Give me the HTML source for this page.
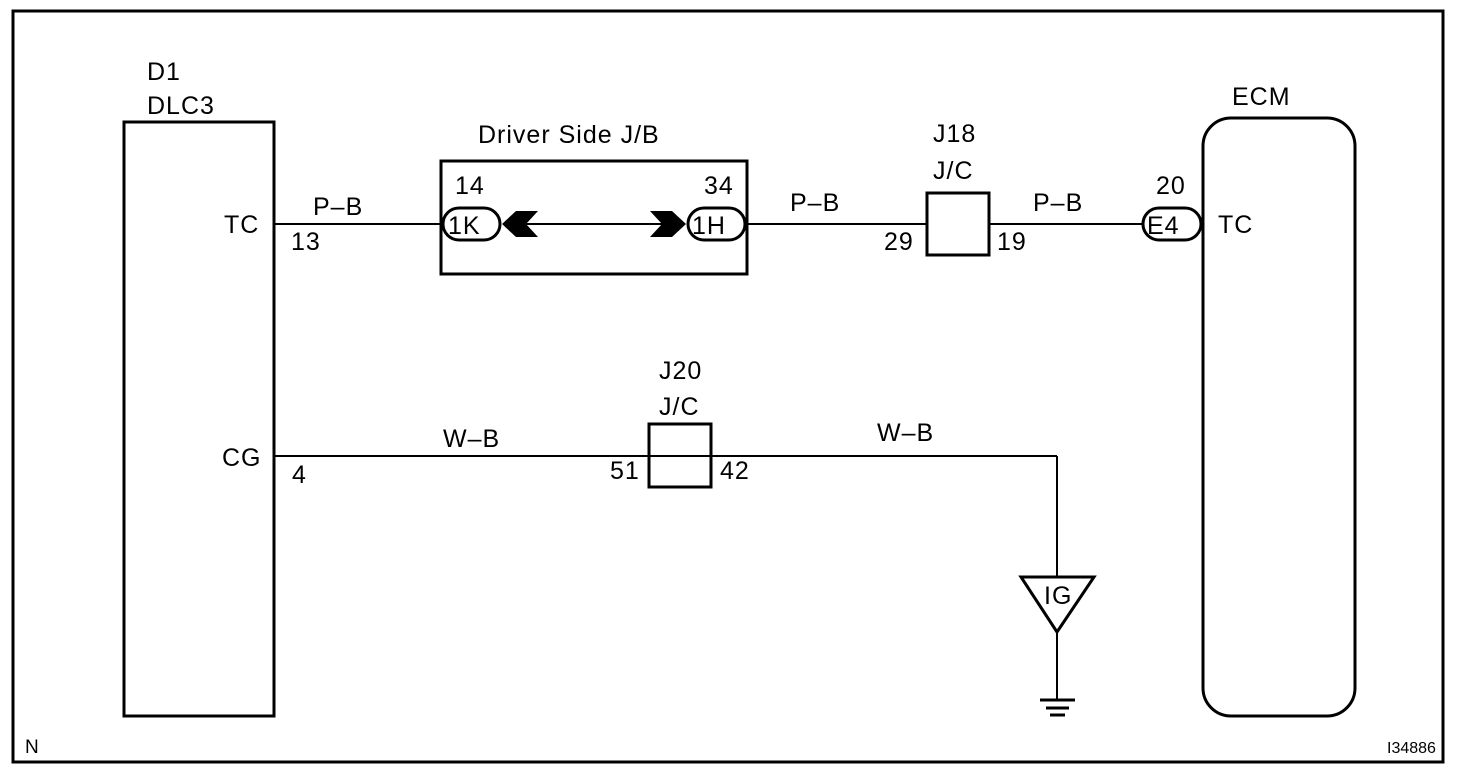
<!DOCTYPE html>
<html><head><meta charset="utf-8"><style>
html,body{margin:0;padding:0;background:#fff}
svg{display:block}
text{font-family:"Liberation Sans",Arial,sans-serif;font-size:25px;letter-spacing:1px;fill:#000}
</style></head><body>
<svg width="1472" height="774" viewBox="0 0 1472 774" xmlns="http://www.w3.org/2000/svg">
<rect x="13" y="11" width="1430" height="751" fill="none" stroke="#000" stroke-width="3"/>
<rect x="124" y="122" width="150" height="594" fill="none" stroke="#000" stroke-width="3"/>
<rect x="1203" y="118" width="152" height="598" rx="28" fill="none" stroke="#000" stroke-width="3"/>
<rect x="441" y="161" width="306" height="113" fill="none" stroke="#000" stroke-width="3"/>
<rect x="927" y="193" width="62" height="62" fill="none" stroke="#000" stroke-width="3"/>
<rect x="649" y="424" width="62" height="63" fill="none" stroke="#000" stroke-width="3"/>
<g stroke="#000" stroke-width="2" fill="none">
<line x1="274" y1="224" x2="443" y2="224"/>
<line x1="520" y1="224" x2="668" y2="224"/>
<line x1="745" y1="224" x2="927" y2="224"/>
<line x1="989" y1="224" x2="1143" y2="224"/>
<line x1="274" y1="456" x2="1057" y2="456"/>
<line x1="1057" y1="456" x2="1057" y2="576"/>
<line x1="1057" y1="632" x2="1057" y2="699"/>
</g>
<g stroke="#000" stroke-width="3" fill="#fff">
<rect x="443" y="208" width="57" height="32" rx="16"/>
<rect x="688" y="208" width="57" height="32" rx="16"/>
<rect x="1143" y="208" width="58" height="32" rx="16"/>
<polygon points="1021,577 1094,577 1057,632"/>
</g>
<polygon points="502,224 516,211 538,211 526,224 538,237 516,237" fill="#000"/>
<polygon points="686,224 672,211 650,211 662,224 650,237 672,237" fill="#000"/>
<g stroke="#000" stroke-width="3">
<line x1="1040" y1="700" x2="1075" y2="700"/>
<line x1="1046" y1="708" x2="1069" y2="708"/>
<line x1="1050" y1="715" x2="1065" y2="715"/>
</g>
<text x="147" y="80">D1</text>
<text x="147" y="114">DLC3</text>
<text x="478" y="143">Driver Side J/B</text>
<text x="1232" y="105">ECM</text>
<text x="933" y="142">J18</text>
<text x="933" y="179">J/C</text>
<text x="659" y="379">J20</text>
<text x="659" y="415">J/C</text>
<text x="224" y="233">TC</text>
<text x="291" y="250">13</text>
<text x="313" y="215">P–B</text>
<text x="455" y="194">14</text>
<text x="704" y="194">34</text>
<text x="448" y="234">1K</text>
<text x="692" y="234">1H</text>
<text x="1147" y="234">E4</text>
<text x="790" y="211">P–B</text>
<text x="884" y="250">29</text>
<text x="997" y="250">19</text>
<text x="1033" y="211">P–B</text>
<text x="1156" y="194">20</text>
<text x="1218" y="233">TC</text>
<text x="222" y="466">CG</text>
<text x="292" y="483">4</text>
<text x="443" y="447">W–B</text>
<text x="610" y="479">51</text>
<text x="720" y="479">42</text>
<text x="877" y="441">W–B</text>
<text x="1044" y="604">IG</text>
<text x="25" y="753" style="font-size:19px;letter-spacing:0">N</text>
<text x="1387" y="753" style="font-size:16px;letter-spacing:0">I34886</text>
</svg>
</body></html>
